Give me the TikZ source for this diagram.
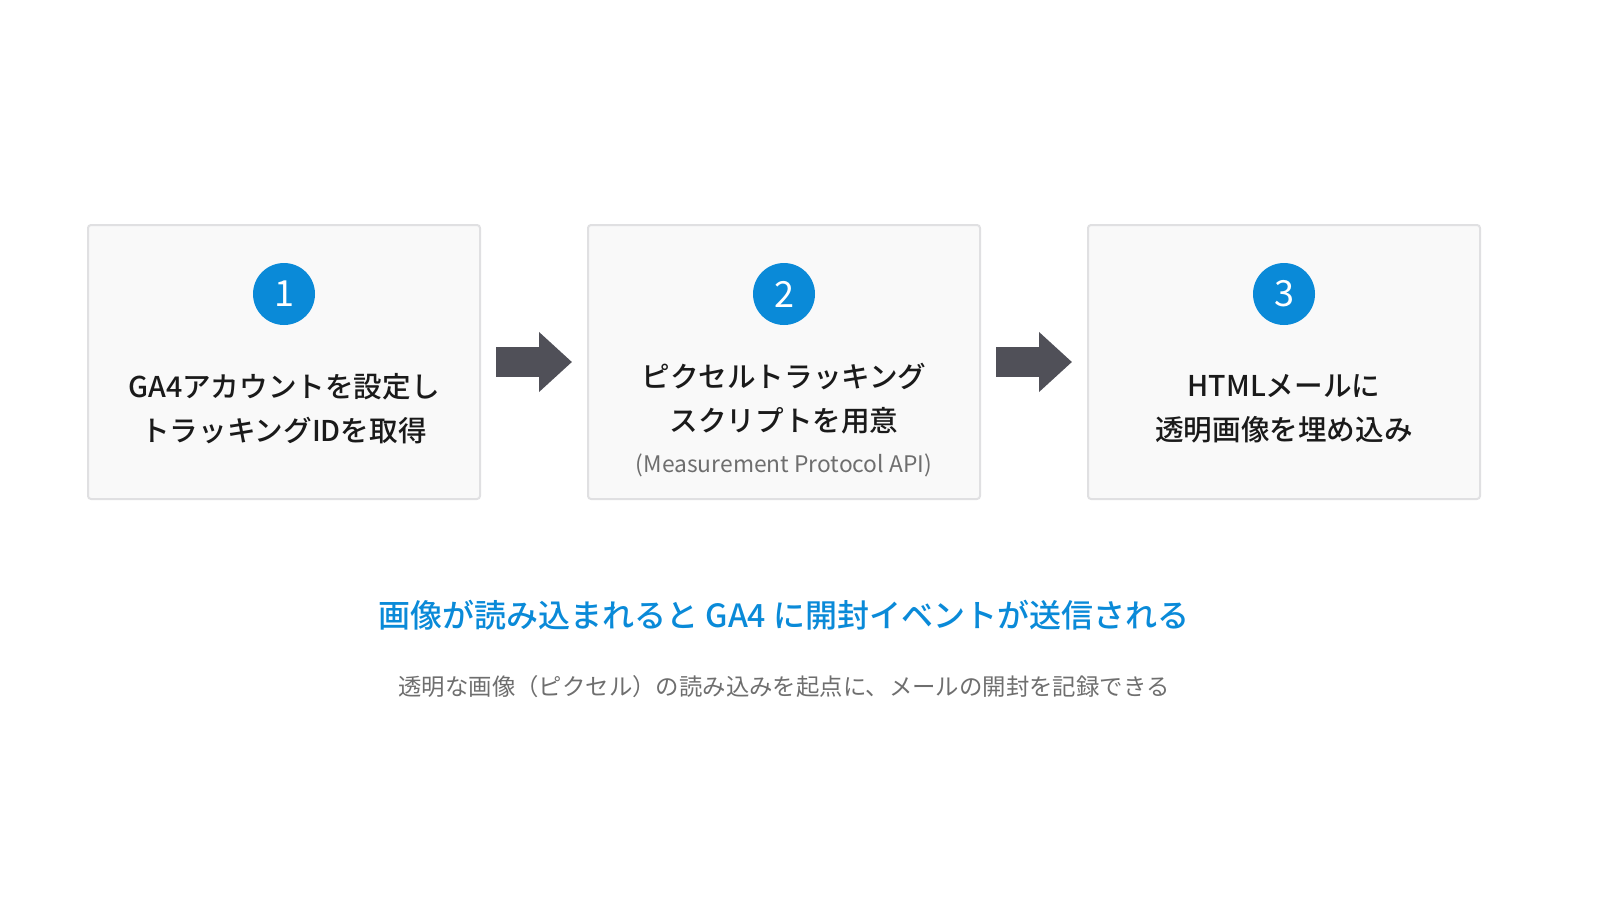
\documentclass[tikz,border=0pt]{standalone}
\usepackage{fontspec}
\setmainfont{Noto Sans CJK JP}[BoldFont=* Medium]
\usetikzlibrary{arrows.meta}

\definecolor{stepblue}{HTML}{0A8AD8}
\definecolor{arrowgray}{HTML}{505058}
\definecolor{boxfill}{HTML}{F9F9F9}
\definecolor{boxline}{HTML}{E0E0E2}
\definecolor{subgray}{HTML}{6E6E6E}
\definecolor{textblack}{HTML}{1A1A1A}

\tikzset{
  stepbox/.style={draw=boxline, line width=1pt, fill=boxfill, rounded corners=1.5pt,
    minimum width=196pt, minimum height=137pt, inner sep=0pt},
  stepnum/.style={circle, fill=stepblue, text=white, minimum size=31pt, inner sep=0pt,
    font=\fontsize{18}{18}\selectfont},
  steptext/.style={align=center, text=textblack, inner sep=0pt,
    font=\fontsize{14.3}{22}\selectfont\bfseries},
  flowarrow/.style={draw=arrowgray, line width=15pt, shorten <=7.5pt, shorten >=7.5pt,
    -{Triangle[length=16.5pt,width=29pt,fill=arrowgray]}},
}

\begin{document}
\begin{tikzpicture}[x=0.5pt,y=-0.5pt]
  \useasboundingbox (0,0) rectangle (1600,900);
  % three steps
  \node[stepbox] (box1) at (284,362) {};
  \node[stepbox] (box2) at (784,362) {};
  \node[stepbox] (box3) at (1284,362) {};
  \node[stepnum] (num1) at (284,294) {1};
  \node[stepnum] (num2) at (784,294) {2};
  \node[stepnum] (num3) at (1284,294) {3};
  \node[steptext] (txt1) at (284,409) {GA4アカウントを設定し\\トラッキングIDを取得};
  \node[steptext] (txt2) at (784,399) {ピクセルトラッキング\\スクリプトを用意};
  \node[text=subgray, inner sep=0pt, font=\fontsize{11.4}{11.4}\selectfont] (api) at (784,465) {(Measurement Protocol API)};
  \node[steptext] (txt3) at (1284,409) {HTMLメールに\\透明画像を埋め込み};
  % arrows between the boxes
  \draw[flowarrow] (box1.east) -- (box2.west);
  \draw[flowarrow] (box2.east) -- (box3.west);
  % result
  \node[text=stepblue, inner sep=0pt, font=\fontsize{16}{16}\selectfont\bfseries] (result) at (784,615)
    {画像が読み込まれると GA4 に開封イベントが送信される};
  \node[text=subgray, inner sep=0pt, font=\fontsize{11.7}{11.7}\selectfont] (note) at (784,687)
    {透明な画像（ピクセル）の読み込みを起点に、メールの開封を記録できる};
\end{tikzpicture}
\end{document}
